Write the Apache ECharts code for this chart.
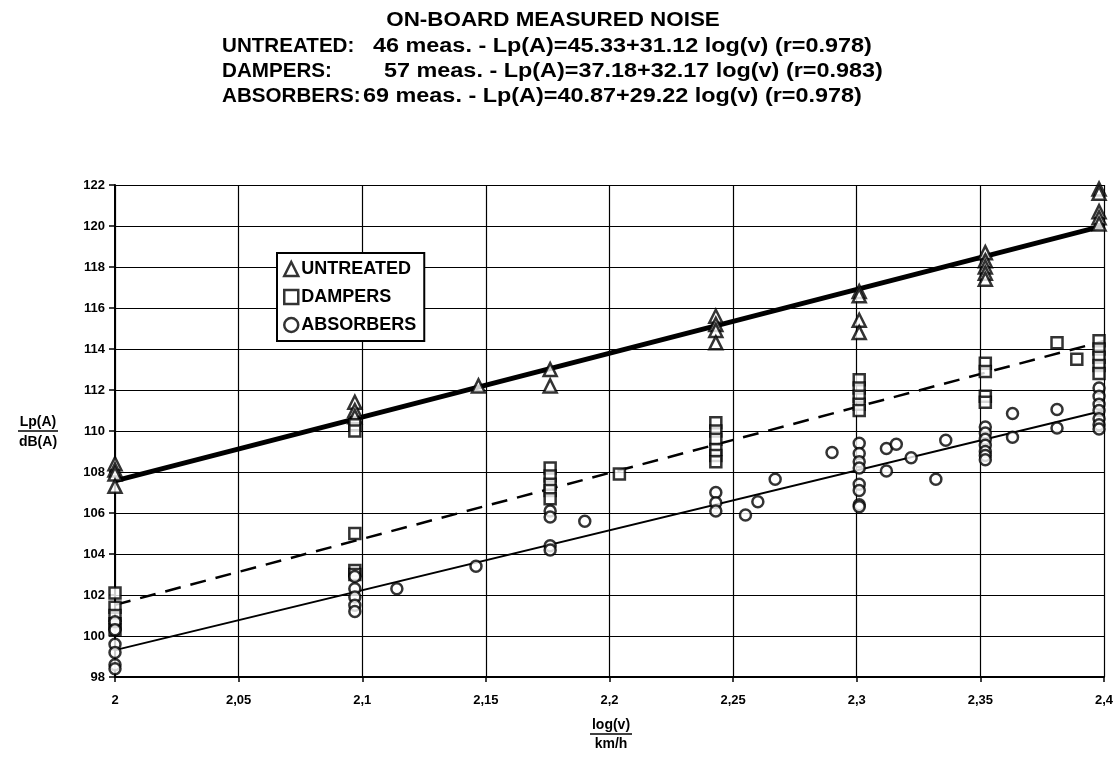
<!DOCTYPE html>
<html>
<head>
<meta charset="utf-8">
<script src="https://cdn.jsdelivr.net/npm/echarts@6/dist/echarts.min.js"></script>
<style>
html,body{margin:0;padding:0;background:#fff;}
#chart{width:1120px;height:763px;}
</style>
</head>
<body>
<div id="chart"></div>
<script>
// ---- data (x = log10 of speed in km/h, y = Lp(A) in dB(A)) ----
const seriesNames = ['UNTREATED', 'DAMPERS', 'ABSORBERS'];
const untreated = [
  [2,108.4],[2,108.1],[2,107.9],[2,107.3],
  [2.097,111.4],[2.097,111.0],[2.097,110.7],
  [2.147,112.2],
  [2.176,113.0],[2.176,112.2],
  [2.243,115.6],[2.243,115.2],[2.243,114.9],[2.243,114.3],
  [2.301,116.8],[2.301,116.6],[2.301,115.4],[2.301,114.8],
  [2.352,118.7],[2.352,118.3],[2.352,118.0],[2.352,117.7],[2.352,117.4],
  [2.398,121.8],[2.398,121.6],[2.398,120.7],[2.398,120.4],[2.398,120.1]
];
const dampers = [
  [2,102.1],[2,101.4],[2,101.0],[2,100.6],[2,100.3],
  [2.097,110.3],[2.097,110.0],[2.097,105.0],[2.097,103.2],[2.097,103.0],
  [2.176,108.2],[2.176,107.8],[2.176,107.4],[2.176,107.1],[2.176,106.7],
  [2.204,107.9],
  [2.243,110.4],[2.243,110.0],[2.243,109.6],[2.243,109.1],[2.243,108.8],[2.243,108.5],
  [2.301,112.5],[2.301,112.1],[2.301,111.7],[2.301,111.3],[2.301,111.0],
  [2.352,113.3],[2.352,112.9],[2.352,111.7],[2.352,111.4],
  [2.381,114.3],[2.389,113.5],
  [2.398,114.4],[2.398,114.0],[2.398,113.6],[2.398,113.2],[2.398,112.8]
];
const absorbers = [
  [2,100.7],[2,100.3],[2,99.6],[2,99.2],[2,98.6],[2,98.4],
  [2.097,102.9],[2.097,102.3],[2.097,101.9],[2.097,101.5],[2.097,101.2],
  [2.114,102.3],[2.146,103.4],
  [2.176,106.1],[2.176,105.8],[2.176,104.4],[2.176,104.2],
  [2.190,105.6],
  [2.243,107.0],[2.243,106.5],[2.243,106.1],
  [2.255,105.9],[2.260,106.55],[2.267,107.65],[2.290,108.95],
  [2.301,109.4],[2.301,108.9],[2.301,108.5],[2.301,108.2],[2.301,107.4],[2.301,107.1],[2.301,106.4],[2.301,106.3],
  [2.312,109.15],[2.316,109.35],[2.312,108.05],[2.322,108.7],[2.332,107.65],[2.336,109.55],
  [2.352,110.2],[2.352,109.9],[2.352,109.6],[2.352,109.3],[2.352,109.0],[2.352,108.8],[2.352,108.6],
  [2.363,110.85],[2.363,109.7],[2.381,111.05],[2.381,110.15],
  [2.398,112.1],[2.398,111.7],[2.398,111.3],[2.398,111.0],[2.398,110.6],[2.398,110.3],[2.398,110.1]
];
// regression: Lp(A) = intercept + slope * log(v)
const intercepts = [45.33, 37.18, 40.87];
const slopes = [31.12, 32.17, 29.22];
const measCounts = [46, 57, 69];
const rValues = ['0.978', '0.983', '0.978'];
const xRange = [2, 2.4];
const yRange = [98, 122];

const chart = echarts.init(document.getElementById('chart'));
const FONT = 'Liberation Sans, Arial, sans-serif';
const pointSets = [untreated, dampers, absorbers];
const symbols = ['triangle', 'rect', 'circle'];
const lineStyles = [
  {color:'#000', width:5, type:'solid'},
  {color:'#000', width:2.5, type:[16,10]},
  {color:'#000', width:2, type:'solid'}
];

const series = [];
for (let i = 0; i < 3; i++) {
  series.push({
    name: seriesNames[i] + '_fit',
    type: 'line',
    data: xRange.map(x => [x, intercepts[i] + slopes[i] * x]),
    symbol: 'none',
    lineStyle: lineStyles[i],
    z: 3,
    silent: true
  });
}
for (let i = 0; i < 3; i++) {
  series.push({
    name: seriesNames[i],
    type: 'scatter',
    data: pointSets[i],
    symbol: symbols[i],
    symbolSize: i === 0 ? 13 : 11,
    itemStyle: {color:'#fff', borderColor:'#000', borderWidth:2.5},
    z: 4
  });
}

function fmt(v){ return String(Math.round(v*100)/100).replace('.', ','); }

const titleLines = seriesNames.map((n,i) =>
  `${measCounts[i]} meas. - Lp(A)=${intercepts[i].toFixed(2)}+${slopes[i].toFixed(2)} log(v) (r=${rValues[i]})`);
const labelX = [222, 222, 222];
const valueX = [373, 384, 363];
const lineY = [46, 71, 96];
const TF = 'bold 20px ' + FONT;
const graphics = [{
  type:'text', x:553, y:20, scaleX:1.12,
  style:{text:'ON-BOARD MEASURED NOISE', font:TF, fill:'#000', textAlign:'center', textVerticalAlign:'middle'}
}];
for (let i = 0; i < 3; i++) {
  graphics.push({type:'text', x:labelX[i], y:lineY[i], scaleX:1.03, style:{text:seriesNames[i] + ':', font:TF, fill:'#000', textVerticalAlign:'middle'}});
  graphics.push({type:'text', x:valueX[i], y:lineY[i], scaleX:1.17, style:{text:titleLines[i], font:TF, fill:'#000', textVerticalAlign:'middle'}});
}
// y axis name
graphics.push({type:'text', x:38, y:422, style:{text:'Lp(A)', font:'bold 14px ' + FONT, fill:'#000', textAlign:'center', textVerticalAlign:'middle'}});
graphics.push({type:'line', shape:{x1:18, y1:431, x2:58, y2:431}, style:{stroke:'#000', lineWidth:1.5}});
graphics.push({type:'text', x:38, y:442, style:{text:'dB(A)', font:'bold 14px ' + FONT, fill:'#000', textAlign:'center', textVerticalAlign:'middle'}});
// x axis name
graphics.push({type:'text', x:611, y:725, style:{text:'log(v)', font:'bold 14px ' + FONT, fill:'#000', textAlign:'center', textVerticalAlign:'middle'}});
graphics.push({type:'line', shape:{x1:590, y1:734, x2:632, y2:734}, style:{stroke:'#000', lineWidth:1.5}});
graphics.push({type:'text', x:611, y:744, style:{text:'km/h', font:'bold 14px ' + FONT, fill:'#000', textAlign:'center', textVerticalAlign:'middle'}});

chart.setOption({
  animation:false,
  backgroundColor:'#fff',
  grid:{left:115, right:16, top:185, bottom:86, containLabel:false},
  xAxis:{
    type:'value', min:xRange[0], max:xRange[1], interval:0.05,
    axisLine:{show:true, onZero:false, lineStyle:{color:'#000', width:2}},
    axisTick:{show:true, length:5, lineStyle:{color:'#000', width:1.5}},
    axisLabel:{formatter:fmt, color:'#000', fontWeight:'bold', fontSize:13, fontFamily:FONT, margin:17},
    splitLine:{show:true, lineStyle:{color:'#000', width:1.2}}
  },
  yAxis:{
    type:'value', min:yRange[0], max:yRange[1], interval:2,
    axisLine:{show:true, onZero:false, lineStyle:{color:'#000', width:2}},
    axisTick:{show:true, length:6, lineStyle:{color:'#000', width:1.5}},
    axisLabel:{color:'#000', fontWeight:'bold', fontSize:13, fontFamily:FONT, margin:10},
    splitLine:{show:true, lineStyle:{color:'#000', width:1.2}}
  },
  legend:{
    data:seriesNames,
    orient:'vertical', left:277, top:253,
    backgroundColor:'#fff',
    borderColor:'#000', borderWidth:2, borderRadius:0,
    padding:[7,8,7,6], itemGap:10, itemWidth:14, itemHeight:14,
    textStyle:{color:'#000', fontWeight:'bold', fontSize:18, fontFamily:FONT, padding:[0,0,0,-2]},
    itemStyle:{borderWidth:2.5}
  },
  graphic:graphics,
  series:series
});
</script>
</body>
</html>
